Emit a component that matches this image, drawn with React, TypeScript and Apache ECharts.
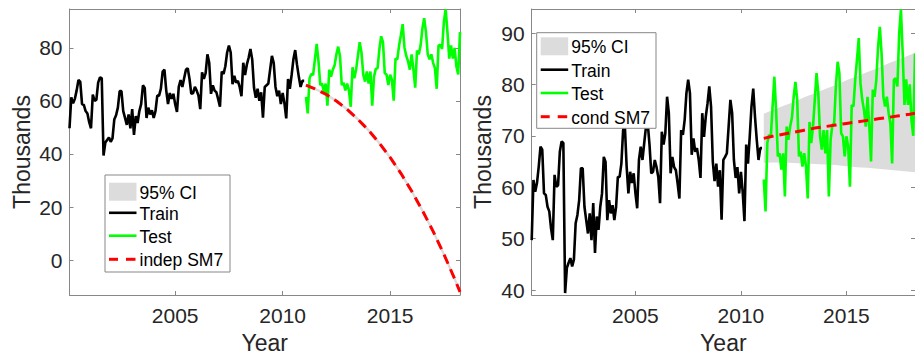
import React, { useEffect, useRef } from "react";
import * as echarts from "echarts";

// ---------- data (thousands) ----------
const startYear = 2000; // first sample is startYear + 1/12, monthly
const trainValues = [
  49.7, 61.4, 59.1, 60.8, 64, 67.9, 67.3, 58.8, 58.5, 56.2, 55.3, 52,
  49.7, 62.4, 60.1, 60.4, 66.9, 68.9, 68.6, 39.4, 44.3, 45.3, 46.2, 44.6,
  45.9, 53, 54.6, 57.5, 63.7, 63.7, 56.2, 53.6, 51, 54.9, 49.7, 56.9,
  47.2, 54.3, 51.7, 56.2, 58.8, 65.9, 64.9, 53.6, 57.5, 54.9, 56.5, 53.6,
  56.2, 62, 62, 64.6, 71.1, 71.8, 64, 58.8, 63, 60.8, 62.7, 58.8,
  55.9, 65.3, 67.9, 65.3, 68.6, 71.8, 72.4, 68.3, 62.7, 63, 65.3,
  63.9, 62, 56.9, 70.8, 68.3, 70.5, 77.6, 74.4, 62.7, 65.9, 63.9, 63.3,
  60.7, 57.8, 71.1, 70.2, 73.1, 78.3, 80.9, 78.3, 66.3, 69.5, 66.9, 67.6,
  65.3, 61.8, 74.4, 69.8, 73.7, 76.3, 79.6, 75.7, 65, 61.2, 64.6, 60.1,
  63.3, 53.7, 65.3, 65.9, 66.6, 71.8, 77, 74.4, 65.3, 61.8, 63.9, 58.8,
  63, 59.1, 53.4, 68.3, 64.6, 69.8, 75.7, 79.2, 73.7, 69.2, 65.3, 67.6, 67.6,
];
const testValues = [
  61.5, 55.3, 68.6, 70.2, 69.8, 75.7, 81.5, 75, 66, 66.6, 63.4, 66.6,
  58.2, 71.8, 69.2, 71.8, 73.5, 77.6, 80.5, 77, 66, 66.9, 64, 66.6,
  64, 57.8, 72.7, 68.6, 71.8, 77, 82.2, 78.3, 69.9, 67.3, 71.1, 66.6,
  71.1, 58.2, 69.2, 72.1, 72.4, 79.6, 84.4, 82.2, 70.5, 69.9, 66, 69.9,
  67.9, 60.1, 76, 75.7, 80.9, 84.8, 89, 80.2, 77, 75, 71.8, 77.6,
  71.8, 65, 79, 77.6, 80.9, 87.3, 91.2, 86, 77.6, 75.7, 77.6, 74.4,
  72.4, 64.6, 80.9, 81.2, 79.6, 89.9, 94.6, 86, 76, 81, 76, 80,
  73, 70, 86,
];
const predTimes = [
  2011.083, 2011.5, 2012, 2012.5, 2013, 2013.5, 2014, 2014.5, 2015, 2015.5,
  2016, 2016.5, 2017, 2017.5, 2018, 2018.25,
];
const indepPred = [66, 64.6, 62.6, 60.0, 56.8, 53.1, 48.9, 44.1, 38.7, 32.7, 26.0, 18.7, 10.8, 2.2, -7.1, -12.0];
const indepLower = [65.6, 64.15, 62.1, 59.45, 56.2, 52.45, 48.2, 43.35, 37.9, 31.85, 25.1, 17.75, 9.8, 1.15, -8.2, -13.2];
const indepUpper = [66.4, 65.05, 63.1, 60.55, 57.4, 53.75, 49.6, 44.85, 39.5, 33.55, 26.9, 19.65, 11.8, 3.25, -6.0, -10.8];
const condPred = [69.5, 69.9, 70.3, 70.7, 71.1, 71.5, 71.8, 72.1, 72.4, 72.7, 73, 73.3, 73.6, 73.9, 74.2, 74.4];
const condLower = [64.7, 64.8, 64.8, 64.7, 64.6, 64.5, 64.4, 64.3, 64.1, 63.9, 63.8, 63.6, 63.4, 63.2, 63, 62.9];
const condUpper = [74.3, 75, 75.8, 76.6, 77.5, 78.3, 79.1, 79.9, 80.8, 81.6, 82.4, 83.2, 84.1, 84.9, 85.7, 86.1];
const xTicks = [2005, 2010, 2015];
const yTicksLeft = [0, 20, 40, 60, 80];
const yTicksRight = [40, 50, 60, 70, 80, 90];
const legendLabelsLeft = ["95% CI", "Train", "Test", "indep SM7"];
const legendLabelsRight = ["95% CI", "Train", "Test", "cond SM7"];

const FONT = '"Liberation Sans", Arial, Helvetica, sans-serif';
const AXIS_COLOR = "#878787";
const TEXT_COLOR = "#262626";

const trainData = trainValues.map((v, i) => [startYear + (i + 1) / 12, v]);
const testData = testValues.map((v, i) => [startYear + (trainValues.length + i + 1) / 12, v]);
const xMin = startYear + 1 / 12;
const xMax = startYear + (trainValues.length + testValues.length) / 12;

function bandSeries(lower: number[], upper: number[], xi: number, yi: number) {
  const rows = predTimes.map((t, i) => [t, lower[i], upper[i]]);
  return {
    type: "custom",
    xAxisIndex: xi,
    yAxisIndex: yi,
    clip: true,
    silent: true,
    data: rows,
    encode: { x: 0, y: [1, 2] },
    renderItem: (params: any, api: any) => {
      if (params.dataIndex !== 0) return null;
      const pts: number[][] = [];
      for (let i = 0; i < rows.length; i++) pts.push(api.coord([rows[i][0], rows[i][2]]));
      for (let i = rows.length - 1; i >= 0; i--) pts.push(api.coord([rows[i][0], rows[i][1]]));
      return { type: "polygon", shape: { points: pts }, style: { fill: "#dcdcdc" } };
    },
    z: 1,
  };
}

function lineSeries(data: number[][], color: string, xi: number, yi: number, dashed = false) {
  return {
    type: "line",
    xAxisIndex: xi,
    yAxisIndex: yi,
    data,
    symbol: "none",
    showSymbol: false,
    silent: true,
    clip: true,
    smooth: false,
    lineStyle: { color, width: dashed ? 3 : 2.6, type: dashed ? [10, 6] : "solid" },
    z: dashed ? 4 : 3,
  };
}

function xAxes(gridIndex: number) {
  const common = {
    type: "value",
    gridIndex,
    min: xMin,
    max: xMax,
    splitLine: { show: false },
    axisLine: { show: true, onZero: false, lineStyle: { color: AXIS_COLOR, width: 1 } },
    axisTick: { show: true, inside: true, length: 4, lineStyle: { color: AXIS_COLOR }, customValues: xTicks },
  };
  return [
    {
      ...common,
      position: "bottom",
      name: "Year",
      nameLocation: "middle",
      nameGap: 36,
      nameTextStyle: { fontFamily: FONT, fontSize: 23, color: TEXT_COLOR },
      axisLabel: {
        show: true,
        customValues: xTicks,
        formatter: (v: number) => String(v),
        fontFamily: FONT,
        fontSize: 21,
        color: TEXT_COLOR,
        margin: 10,
      },
    },
    { ...common, position: "top", axisLabel: { show: false } },
  ];
}

function yAxes(gridIndex: number, min: number, max: number, ticks: number[], gap: number) {
  const common = {
    type: "value",
    gridIndex,
    min,
    max,
    splitLine: { show: false },
    axisLine: { show: true, onZero: false, lineStyle: { color: AXIS_COLOR, width: 1 } },
    axisTick: { show: true, inside: true, length: 4, lineStyle: { color: AXIS_COLOR }, customValues: ticks },
  };
  return [
    {
      ...common,
      position: "left",
      name: "Thousands",
      nameLocation: "middle",
      nameGap: gap,
      nameRotate: 90,
      nameTextStyle: { fontFamily: FONT, fontSize: 23, color: TEXT_COLOR },
      axisLabel: {
        show: true,
        customValues: ticks,
        formatter: (v: number) => String(v),
        fontFamily: FONT,
        fontSize: 21,
        color: TEXT_COLOR,
        margin: 7,
      },
    },
    { ...common, position: "right", axisLabel: { show: false } },
  ];
}

function legendGraphic(x0: number, y0: number, w: number, h: number, labels: string[], rowYs: number[]) {
  const px = x0 + 4;
  const pw = 27.5;
  const tx = x0 + 34.5;
  const els: any[] = [
    { type: "rect", shape: { x: x0, y: y0, width: w, height: h }, style: { fill: "#ffffff", stroke: AXIS_COLOR, lineWidth: 1 }, z: 10 },
    { type: "rect", shape: { x: px, y: rowYs[0] - 9, width: pw, height: 18 }, style: { fill: "#dcdcdc" }, z: 11 },
    { type: "line", shape: { x1: px, y1: rowYs[1], x2: px + pw, y2: rowYs[1] }, style: { stroke: "#000000", lineWidth: 2.6 }, z: 11 },
    { type: "line", shape: { x1: px, y1: rowYs[2], x2: px + pw, y2: rowYs[2] }, style: { stroke: "#00ff00", lineWidth: 2.6 }, z: 11 },
    { type: "line", shape: { x1: px, y1: rowYs[3], x2: px + 9, y2: rowYs[3] }, style: { stroke: "#ff0000", lineWidth: 3 }, z: 11 },
    { type: "line", shape: { x1: px + 17, y1: rowYs[3], x2: px + pw - 1, y2: rowYs[3] }, style: { stroke: "#ff0000", lineWidth: 3 }, z: 11 },
  ];
  labels.forEach((lab, i) => {
    els.push({
      type: "text",
      x: tx,
      y: rowYs[i] + 1,
      style: { text: lab, fill: "#000000", font: `17.5px ${FONT}`, align: "left", verticalAlign: "middle" },
      z: 12,
    });
  });
  return els;
}

export default function App() {
  const ref = useRef<HTMLDivElement>(null);
  useEffect(() => {
    if (!ref.current) return;
    const chart = echarts.init(ref.current, null, { renderer: "svg" });
    const option: any = {
      animation: false,
      backgroundColor: "#ffffff",
      grid: [
        { left: 69.5, top: 9, width: 390.5, height: 286, containLabel: false },
        { left: 531.7, top: 9, width: 390.3, height: 286, containLabel: false },
      ],
      xAxis: [...xAxes(0), ...xAxes(1)],
      yAxis: [
        ...yAxes(0, -13.2, 94.7, yTicksLeft, 36),
        ...yAxes(1, 39.03, 94.67, yTicksRight, 37),
      ],
      series: [
        bandSeries(indepLower, indepUpper, 0, 0),
        lineSeries(trainData, "#000000", 0, 0),
        lineSeries(testData, "#00ff00", 0, 0),
        lineSeries(predTimes.map((t, i) => [t, indepPred[i]]), "#ff0000", 0, 0, true),
        bandSeries(condLower, condUpper, 2, 2),
        lineSeries(trainData, "#000000", 2, 2),
        lineSeries(testData, "#00ff00", 2, 2),
        lineSeries(predTimes.map((t, i) => [t, condPred[i]]), "#ff0000", 2, 2, true),
      ],
      graphic: [
        ...legendGraphic(105, 175, 125, 97, legendLabelsLeft, [191.7, 212.8, 235.7, 259.3]),
        ...legendGraphic(536.7, 32.7, 119.3, 95.6, legendLabelsRight, [46.3, 69.7, 93, 116.7]),
      ],
    };
    chart.setOption(option);
    return () => chart.dispose();
  }, []);
  return (
    <div
      ref={ref}
      style={{ position: "fixed", left: 0, top: 0, width: 915, height: 362, background: "#fff" }}
    />
  );
}
